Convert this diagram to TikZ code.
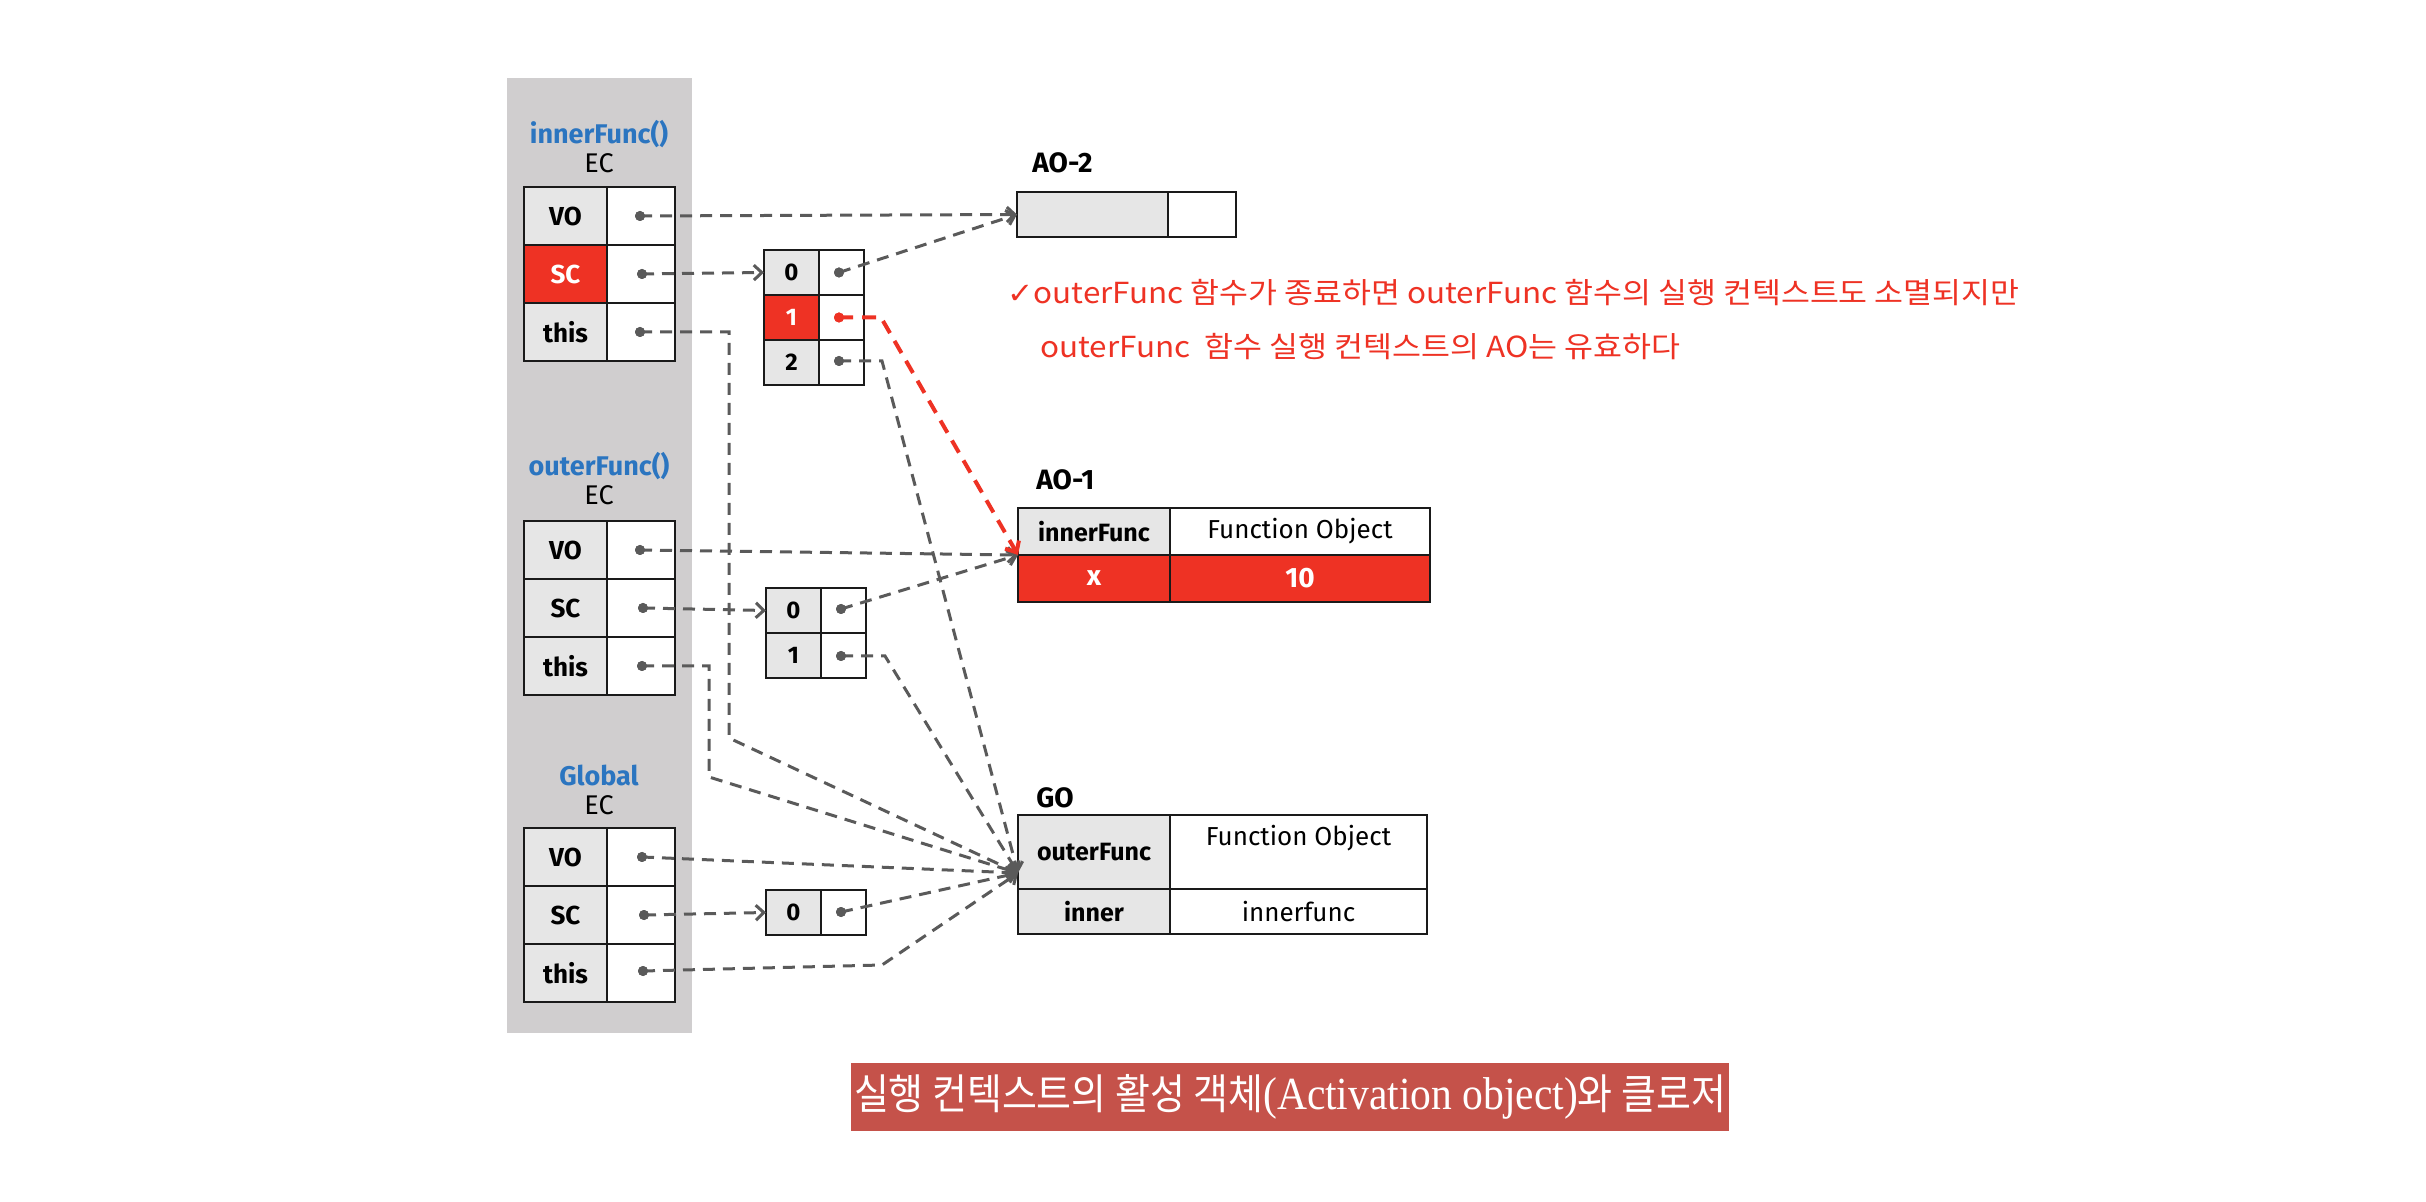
\documentclass[tikz,border=0pt]{standalone}
\usepackage{fontspec}
\usepackage{graphicx}
\usetikzlibrary{arrows.meta,calc}
\newfontfamily\fira{Fira Sans}
\newfontfamily\kr{Noto Sans CJK KR}
\newfontfamily\djv{DejaVu Sans}
\newfontfamily\lser{Liberation Serif}
\definecolor{panelgray}{HTML}{D0CECF}
\definecolor{cellgray}{HTML}{E6E6E6}
\definecolor{hotred}{HTML}{EE3224}
\definecolor{labelblue}{HTML}{2B75C0}
\definecolor{linegray}{HTML}{5A5A5A}
\definecolor{capred}{HTML}{C5524A}
\definecolor{edgeblack}{HTML}{1A1A1A}
\tikzset{
  cell/.style={draw=edgeblack, line width=1.3pt, inner sep=0pt, outer sep=0pt},
  keyc/.style={cell, fill=cellgray, font=\fira\bfseries\fontsize{13}{15}\selectfont},
  valc/.style={cell, fill=white, font=\fira\fontsize{12.5}{15}\selectfont},
  eckey/.style={keyc, minimum width=41.5pt, minimum height=29pt},
  ecval/.style={valc, minimum width=34pt, minimum height=29pt},
  arrkey/.style={keyc, minimum width=27.5pt, minimum height=22.5pt, font=\fira\bfseries\fontsize{12}{14}\selectfont},
  arrval/.style={valc, minimum width=22.5pt, minimum height=22.5pt},
  objkey/.style={keyc, minimum width=76pt, minimum height=23.5pt, font=\fira\bfseries\fontsize{12.5}{15}\selectfont},
  objval/.style={valc, minimum width=130pt, minimum height=23.5pt},
  hot/.style={fill=hotred, text=white},
  ecname/.style={inner sep=0pt, text=labelblue, font=\fira\bfseries\fontsize{13.5}{15}\selectfont},
  ectag/.style={inner sep=0pt, font=\fira\fontsize{13.5}{15}\selectfont},
  objname/.style={inner sep=0pt, anchor=west, font=\fira\bfseries\fontsize{14}{16}\selectfont},
  ptr/.style={circle, fill=linegray, inner sep=0pt, minimum size=5pt},
  redptr/.style={circle, fill=hotred, inner sep=0pt, minimum size=5pt},
  conn/.style={draw=linegray, line width=1.5pt, dash pattern=on 6pt off 4pt,
    -{Straight Barb[length=4pt,width=7.5pt]}},
  redconn/.style={draw=hotred, line width=2pt, dash pattern=on 7pt off 4.5pt,
    -{Straight Barb[length=4.5pt,width=8pt]}},
  note/.style={inner sep=0pt, anchor=west, text=hotred, font=\kr\fontsize{14.5}{16}\selectfont},
}
\begin{document}
\begin{tikzpicture}[x=0.5pt,y=-0.5pt]
\useasboundingbox (0,0) rectangle (2426,1202);

% stack panel
\node[fill=panelgray, minimum width=92.5pt, minimum height=477.5pt, inner sep=0pt] (panel) at (599.5,555.5) {};

% innerFunc EC
\node[ecname] (iname) at (599,134) {innerFunc()};
\node[ectag] (itag) at (599,163) {EC};
\node[eckey] (ivok) at (565.5,216) {VO};
\node[ecval] (ivov) at (641,216) {};
\node[eckey, hot] (isck) at (565.5,274) {SC};
\node[ecval] (iscv) at (641,274) {};
\node[eckey] (ithk) at (565.5,332) {this};
\node[ecval] (ithv) at (641,332) {};

% outerFunc EC
\node[ecname] (oname) at (599,466) {outerFunc()};
\node[ectag] (otag) at (599,495) {EC};
\node[eckey] (ovok) at (565.5,550) {VO};
\node[ecval] (ovov) at (641,550) {};
\node[eckey] (osck) at (565.5,608) {SC};
\node[ecval] (oscv) at (641,608) {};
\node[eckey] (othk) at (565.5,666) {this};
\node[ecval] (othv) at (641,666) {};

% Global EC
\node[ecname] (gname) at (599,775) {Global};
\node[ectag] (gtag) at (599,805) {EC};
\node[eckey] (gvok) at (565.5,857) {VO};
\node[ecval] (gvov) at (641,857) {};
\node[eckey] (gsck) at (565.5,915) {SC};
\node[ecval] (gscv) at (641,915) {};
\node[eckey] (gthk) at (565.5,973) {this};
\node[ecval] (gthv) at (641,973) {};

% scope chain arrays
\node[arrkey] (s1k0) at (791.5,272.5) {0};
\node[arrval] (s1v0) at (841.5,272.5) {};
\node[arrkey, hot] (s1k1) at (791.5,317.5) {1};
\node[arrval] (s1v1) at (841.5,317.5) {};
\node[arrkey] (s1k2) at (791.5,362.5) {2};
\node[arrval] (s1v2) at (841.5,362.5) {};

\node[arrkey] (s2k0) at (793.5,610.5) {0};
\node[arrval] (s2v0) at (843.5,610.5) {};
\node[arrkey] (s2k1) at (793.5,655.5) {1};
\node[arrval] (s2v1) at (843.5,655.5) {};

\node[arrkey] (s3k0) at (793.5,912.5) {0};
\node[arrval] (s3v0) at (843.5,912.5) {};

% AO-2
\node[objname] (ao2name) at (1032,163) {AO-2};
\node[objkey, minimum width=75.5pt, minimum height=22.5pt] (ao2k) at (1092.5,214.5) {};
\node[objval, minimum width=34pt, minimum height=22.5pt] (ao2v) at (1202,214.5) {};

% AO-1
\node[objname] (ao1name) at (1036,480) {AO-1};
\node[objkey] (ao1k1) at (1094,531.5) {innerFunc};
\node[objval, font=\fira\fontsize{13}{15}\selectfont] (ao1v1) at (1300,531.5) {Function Object};
\node[objkey, hot, font=\fira\bfseries\fontsize{14}{16}\selectfont] (ao1k2) at (1094,578.5) {x};
\node[objval, hot, font=\fira\bfseries\fontsize{14}{16}\selectfont] (ao1v2) at (1300,578.5) {10};

% GO
\node[objname] (goname) at (1036,798) {GO};
\node[objkey, minimum height=37pt] (gok1) at (1094,852) {outerFunc};
\node[objval, minimum width=128.5pt, minimum height=37pt] (gov1) at (1298.5,852) {};
\node[inner sep=0pt, font=\fira\fontsize{13}{15}\selectfont] (gofo) at (1298.5,838) {Function Object};
\node[objkey, minimum height=22.5pt] (gok2) at (1094,911.5) {inner};
\node[objval, minimum width=128.5pt, minimum height=22.5pt, font=\fira\fontsize{13}{15}\selectfont] (gov2) at (1298.5,911.5) {innerfunc};

% note
\node[note] (note1) at (1007,293) {\resizebox{506pt}{\height}{{\djv ✓}outerFunc 함수가 종료하면 outerFunc 함수의 실행 컨텍스트도 소멸되지만}};
\node[note] (note2) at (1040,347) {\resizebox{320pt}{\height}{outerFunc\ \ 함수 실행 컨텍스트의 AO는 유효하다}};

% caption
\node[fill=capred, text=white, minimum width=439pt, minimum height=34pt, inner sep=0pt] (caption) at (1290,1097)
  {\resizebox{436pt}{\height}{{\kr\fontsize{21}{24}\selectfont 실행 컨텍스트의 활성 객체}{\lser\fontsize{23}{26}\selectfont (Activation object)}{\kr\fontsize{21}{24}\selectfont 와 클로저}}};

% target points
\coordinate (ao1in) at (ao1k1.south west);
\coordinate (goin) at ($(gok1.south west)+(0,-16)$);

% pointer dots
\node[ptr] (ivod) at (640,216) {};
\node[ptr] (iscd) at (642,274) {};
\node[ptr] (ithd) at (640,332) {};
\node[ptr] (ovod) at (640,550) {};
\node[ptr] (oscd) at (643,608) {};
\node[ptr] (othd) at (642,666) {};
\node[ptr] (gvod) at (642,857) {};
\node[ptr] (gscd) at (644,915) {};
\node[ptr] (gthd) at (643,971) {};
\node[ptr] (s1d0) at (839,272.5) {};
\node[redptr] (s1d1) at (839,317.5) {};
\node[ptr] (s1d2) at (839,361) {};
\node[ptr] (s2d0) at (841,609) {};
\node[ptr] (s2d1) at (841,656) {};
\node[ptr] (s3d0) at (841,912) {};

% connectors
\draw[conn] (ivod.center) -- (ao2k.west);
\draw[conn] (iscd.center) -- (s1k0.west);
\draw[conn] (ithd.center) -- ++(89,0) -- ++(0,406) -- (goin);
\draw[conn] (s1d0.center) -- (ao2k.west);
\draw[conn] (s1d2.center) -- ++(43,0) -- (goin);
\draw[conn] (ovod.center) -- (ao1in);
\draw[conn] (oscd.center) -- (s2k0.west);
\draw[conn] (othd.center) -- ++(67,0) -- ++(0,111) -- (goin);
\draw[conn] (s2d0.center) -- (ao1in);
\draw[conn] (s2d1.center) -- ++(44,0) -- (goin);
\draw[conn] (gvod.center) -- (goin);
\draw[conn] (gscd.center) -- (s3k0.west);
\draw[conn] (s3d0.center) -- (goin);
\draw[conn] (gthd.center) -- ++(239,-6) -- (goin);
\draw[redconn] (s1d1.center) -- ++(42,0) -- (ao1in);

% redraw dots on top
\foreach \d in {ivod,iscd,ithd,ovod,oscd,othd,gvod,gscd,gthd,s1d0,s1d2,s2d0,s2d1,s3d0}
  \fill[linegray] (\d) circle (2.5pt);
\fill[hotred] (s1d1) circle (2.5pt);
\end{tikzpicture}
\end{document}
